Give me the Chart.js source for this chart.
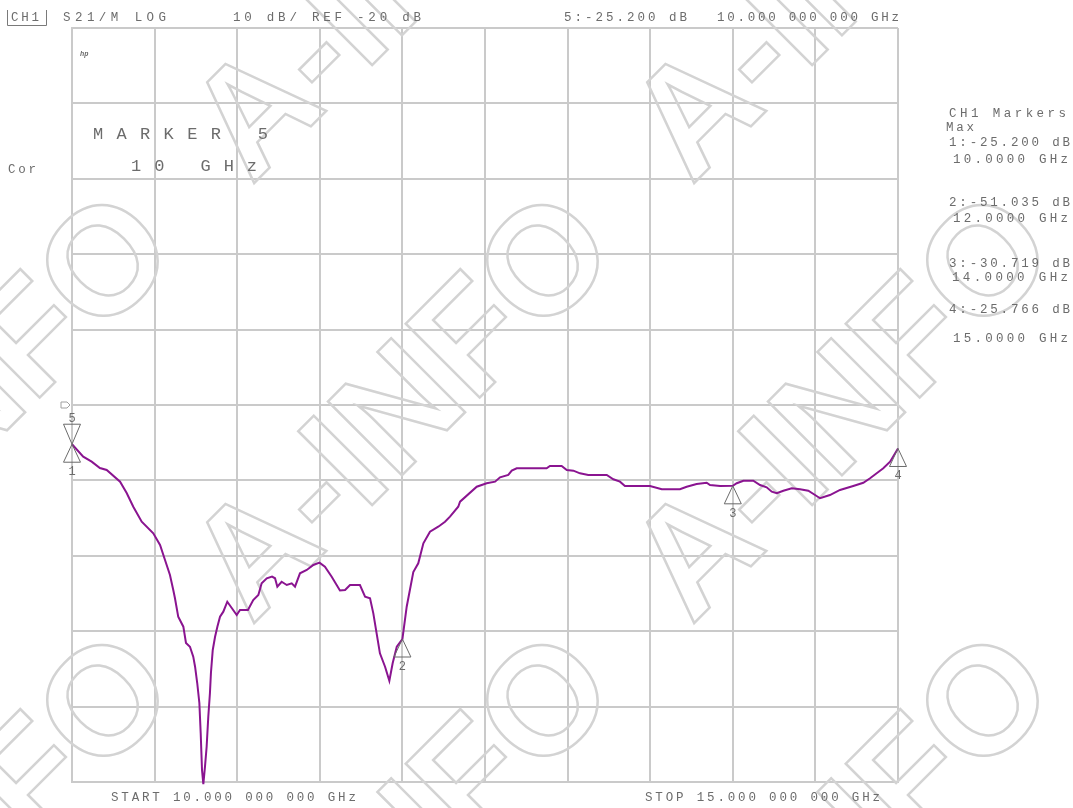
<!DOCTYPE html>
<html>
<head>
<meta charset="utf-8">
<script src="https://cdn.jsdelivr.net/npm/chart.js@4"></script>
<style>
  html, body { margin: 0; padding: 0; background: #ffffff; }
  #wrap { position: relative; width: 1073px; height: 808px; }
</style>
</head>
<body>
<div id="wrap"><canvas id="c"></canvas></div>
<script>
// ---- data ----
const freqGHz = [
  10.000, 10.068, 10.119, 10.169, 10.210, 10.291, 10.331, 10.371, 10.422, 10.492,
  10.533, 10.563, 10.593, 10.613, 10.623, 10.643, 10.674, 10.690, 10.714, 10.734,
  10.745, 10.758, 10.771, 10.779, 10.787, 10.795, 10.805, 10.815, 10.825, 10.835,
  10.841, 10.852, 10.866, 10.880, 10.896, 10.916, 10.940, 10.967, 10.997, 11.017,
  11.065, 11.097, 11.128, 11.148, 11.179, 11.211, 11.229, 11.243, 11.269, 11.300,
  11.330, 11.350, 11.380, 11.421, 11.461, 11.498, 11.531, 11.572, 11.622, 11.653,
  11.683, 11.743, 11.774, 11.804, 11.824, 11.844, 11.864, 11.895, 11.921, 11.941,
  11.966, 12.000, 12.026, 12.066, 12.096, 12.127, 12.167, 12.217, 12.258, 12.288,
  12.338, 12.349, 12.450, 12.510, 12.561, 12.591, 12.641, 12.662, 12.692, 12.873,
  12.893, 12.964, 12.995, 13.035, 13.075, 13.125, 13.237, 13.277, 13.317, 13.347,
  13.499, 13.570, 13.680, 13.721, 13.781, 13.842, 13.862, 13.923, 14.000, 14.024,
  14.064, 14.124, 14.165, 14.205, 14.236, 14.266, 14.306, 14.357, 14.407, 14.457,
  14.498, 14.528, 14.588, 14.649, 14.729, 14.790, 14.831, 14.871, 14.911, 14.952,
  15.000
];
const s21dB = [
  -25.20, -26.86, -27.52, -28.36, -28.62, -30.17, -31.67, -33.49, -35.48, -37.02,
  -38.57, -40.56, -42.55, -44.54, -45.60, -48.08, -49.40, -51.56, -52.06, -53.38,
  -54.71, -56.87, -59.52, -63.50, -68.41, -70.30, -67.97, -65.32, -61.34, -58.20,
  -55.54, -52.49, -50.73, -49.40, -48.08, -47.41, -46.09, -46.92, -47.85, -47.19,
  -47.19, -45.86, -45.20, -43.65, -42.98, -42.75, -42.98, -44.10, -43.44, -43.87,
  -43.65, -44.10, -42.32, -41.88, -41.22, -40.91, -41.45, -42.77, -44.60, -44.54,
  -43.87, -43.87, -45.42, -45.64, -47.63, -50.28, -52.93, -54.71, -56.57, -54.26,
  -52.06, -51.04, -46.75, -42.15, -40.99, -38.34, -36.80, -36.14, -35.48, -34.81,
  -33.49, -32.82, -30.84, -30.38, -30.17, -29.59, -29.28, -28.71, -28.40, -28.40,
  -28.09, -28.09, -28.62, -28.71, -29.06, -29.28, -29.28, -29.85, -30.17, -30.74,
  -30.74, -31.18, -31.18, -30.84, -30.48, -30.31, -30.61, -30.74, -30.72, -30.38,
  -30.04, -30.04, -30.61, -30.92, -31.50, -31.71, -31.37, -31.05, -31.18, -31.37,
  -31.94, -32.37, -31.94, -31.27, -30.74, -30.31, -29.72, -29.06, -28.40, -27.52,
  -25.77
];
const markerIds   = ['1', '2', '3', '4'];
const markerFreq  = [10, 12, 14, 15];
const markerDB    = [-25.200, -51.035, -30.719, -25.766];
const activeMarkerId = '5';
const activeMarkerFreq = 10;
const activeMarkerDB = -25.200;
const startGHz = 10, stopGHz = 15, freqStep = 0.5;
const refLevel = -20, dbPerDiv = 10, dbTop = 30, dbBottom = -70;

// ---- text lines ----
const headerTexts = ['S21/M LOG', '10 dB/ REF -20 dB', '5:-25.200 dB', '10.000 000 000 GHz'];
const sideTexts = ['CH1 Markers', 'Max', '1:-25.200 dB', '10.0000 GHz', '2:-51.035 dB', '12.0000 GHz',
                   '3:-30.719 dB', '14.0000 GHz', '4:-25.766 dB', '15.0000 GHz'];
const footerTexts = ['START 10.000 000 000 GHz', 'STOP 15.000 000 000 GHz'];

const TXT = '#6c6c6c';
const GRID = '#cacaca';
const MONO = '"Liberation Mono", "DejaVu Sans Mono", monospace';
const FS = 12.5;

function spanText(ctx, text, x0, x1, y, size) {
  ctx.save();
  ctx.font = size + 'px ' + MONO;
  ctx.textAlign = 'left';
  ctx.textBaseline = 'alphabetic';
  const n = text.length;
  const w = ctx.measureText(text).width;
  const lastW = ctx.measureText(text[n - 1]).width;
  const natural = w - lastW;
  const sp = n > 1 ? ((x1 - x0 - lastW) - natural) / (n - 1) : 0;
  if ('letterSpacing' in ctx) {
    ctx.letterSpacing = sp.toFixed(2) + 'px';
    ctx.fillText(text, x0, y);
  } else {
    let x = x0;
    for (const ch of text) { ctx.fillText(ch, x, y); x += ctx.measureText(ch).width + sp; }
  }
  ctx.restore();
}

const watermark = {
  id: 'watermark',
  beforeDatasetsDraw(chart) {
    const ctx = chart.ctx;
    ctx.save();
    ctx.strokeStyle = '#d3d3d3';
    ctx.lineWidth = 2.5;
    ctx.lineJoin = 'miter';
    ctx.font = 'bold 152px "Liberation Sans", Arial, sans-serif';
    ctx.textAlign = 'center';
    ctx.textBaseline = 'middle';
    for (let i = -1; i <= 1; i++) {
      for (let j = -1; j <= 1; j++) {
        ctx.save();
        ctx.translate(407 + 440 * i, 411 + 440 * j);
        ctx.rotate(-Math.PI / 4);
        ctx.strokeText('A-INFO', 0, 0);
        ctx.restore();
      }
    }
    ctx.restore();
  }
};

const markers = {
  id: 'markers',
  afterDatasetsDraw(chart) {
    const ctx = chart.ctx, xs = chart.scales.x, ys = chart.scales.y;
    ctx.save();
    ctx.strokeStyle = '#6a6a6a';
    ctx.fillStyle = TXT;
    ctx.lineWidth = 1;
    ctx.font = '12px ' + MONO;
    ctx.textAlign = 'center';
    ctx.textBaseline = 'alphabetic';
    markerIds.forEach((id, i) => {
      const px = xs.getPixelForValue(markerFreq[i]);
      const py = ys.getPixelForValue(markerDB[i]);
      ctx.beginPath();
      ctx.moveTo(px, py);
      ctx.lineTo(px - 8.5, py + 18);
      ctx.lineTo(px + 8.5, py + 18);
      ctx.closePath();
      ctx.stroke();
      ctx.fillText(id, px, py + 31);
    });
    // active marker (inverted)
    const ax = xs.getPixelForValue(activeMarkerFreq);
    const ay = ys.getPixelForValue(activeMarkerDB);
    ctx.beginPath();
    ctx.moveTo(ax, ay);
    ctx.lineTo(ax - 8.5, ay - 20);
    ctx.lineTo(ax + 8.5, ay - 20);
    ctx.closePath();
    ctx.stroke();
    ctx.fillText(activeMarkerId, ax, ay - 22);
    // reference level flag
    const ry = ys.getPixelForValue(refLevel);
    const lx = xs.left;
    ctx.strokeStyle = '#a0a0a0';
    ctx.beginPath();
    ctx.moveTo(lx - 11, ry - 3);
    ctx.lineTo(lx - 5, ry - 3);
    ctx.lineTo(lx - 2, ry);
    ctx.lineTo(lx - 5, ry + 3);
    ctx.lineTo(lx - 11, ry + 3);
    ctx.closePath();
    ctx.stroke();
    ctx.restore();
  }
};

const labels = {
  id: 'labels',
  afterDraw(chart) {
    const ctx = chart.ctx;
    ctx.save();
    ctx.fillStyle = TXT;
    // CH1 bracket box
    ctx.strokeStyle = '#7a7a7a';
    ctx.lineWidth = 1;
    ctx.beginPath();
    ctx.moveTo(7.5, 10); ctx.lineTo(7.5, 25.5); ctx.lineTo(46.5, 25.5); ctx.lineTo(46.5, 10);
    ctx.stroke();
    spanText(ctx, 'CH1', 11, 39, 21, FS);
    // header
    spanText(ctx, headerTexts[0], 63, 166, 21, FS);
    spanText(ctx, headerTexts[1], 233, 421, 21, FS);
    spanText(ctx, headerTexts[2], 564, 687, 21, FS);
    spanText(ctx, headerTexts[3], 717, 899, 21, FS);
    // side
    spanText(ctx, 'Cor', 8, 36, 173, FS);
    spanText(ctx, sideTexts[0], 949, 1066, 117, FS);
    spanText(ctx, sideTexts[1], 946, 974, 131, FS);
    spanText(ctx, sideTexts[2], 949, 1070, 146, FS);
    spanText(ctx, sideTexts[3], 953, 1068, 163, FS);
    spanText(ctx, sideTexts[4], 949, 1070, 206, FS);
    spanText(ctx, sideTexts[5], 953, 1068, 222, FS);
    spanText(ctx, sideTexts[6], 949, 1070, 267, FS);
    spanText(ctx, sideTexts[7], 952, 1068, 281, FS);
    spanText(ctx, sideTexts[8], 949, 1070, 313, FS);
    spanText(ctx, sideTexts[9], 953, 1068, 342, FS);
    // footer
    spanText(ctx, footerTexts[0], 111, 356, 801, FS);
    spanText(ctx, footerTexts[1], 645, 880, 801, FS);
    // marker annotation
    spanText(ctx, 'MARKER 5', 93, 268, 139, 17);
    spanText(ctx, '10 GHz', 131, 257, 171, 17);
    // tiny logo
    ctx.font = 'italic bold 7px ' + MONO;
    ctx.fillText('hp', 80, 56);
    ctx.restore();
  }
};

const ctxEl = document.getElementById('c');
new Chart(ctxEl, {
  type: 'line',
  data: {
    datasets: [{
      label: 'S21',
      data: freqGHz.map((f, i) => ({ x: f, y: s21dB[i] })),
      borderColor: '#8a1490',
      borderWidth: 2,
      pointRadius: 0,
      tension: 0,
      fill: false,
      clip: 4
    }]
  },
  options: {
    responsive: true,
    maintainAspectRatio: false,
    animation: false,
    events: [],
    layout: { padding: { left: 72, top: 28, right: 175, bottom: 26 } },
    plugins: { legend: { display: false }, tooltip: { enabled: false }, title: { display: false } },
    scales: {
      x: {
        type: 'linear', min: startGHz, max: stopGHz,
        ticks: { display: false, stepSize: freqStep },
        grid: { color: GRID, lineWidth: 2, drawTicks: false },
        border: { display: true, color: GRID, width: 2 }
      },
      y: {
        type: 'linear', min: dbBottom, max: dbTop,
        ticks: { display: false, stepSize: dbPerDiv },
        grid: { color: GRID, lineWidth: 2, drawTicks: false },
        border: { display: true, color: GRID, width: 2 }
      }
    }
  },
  plugins: [watermark, markers, labels]
});
</script>
</body>
</html>
